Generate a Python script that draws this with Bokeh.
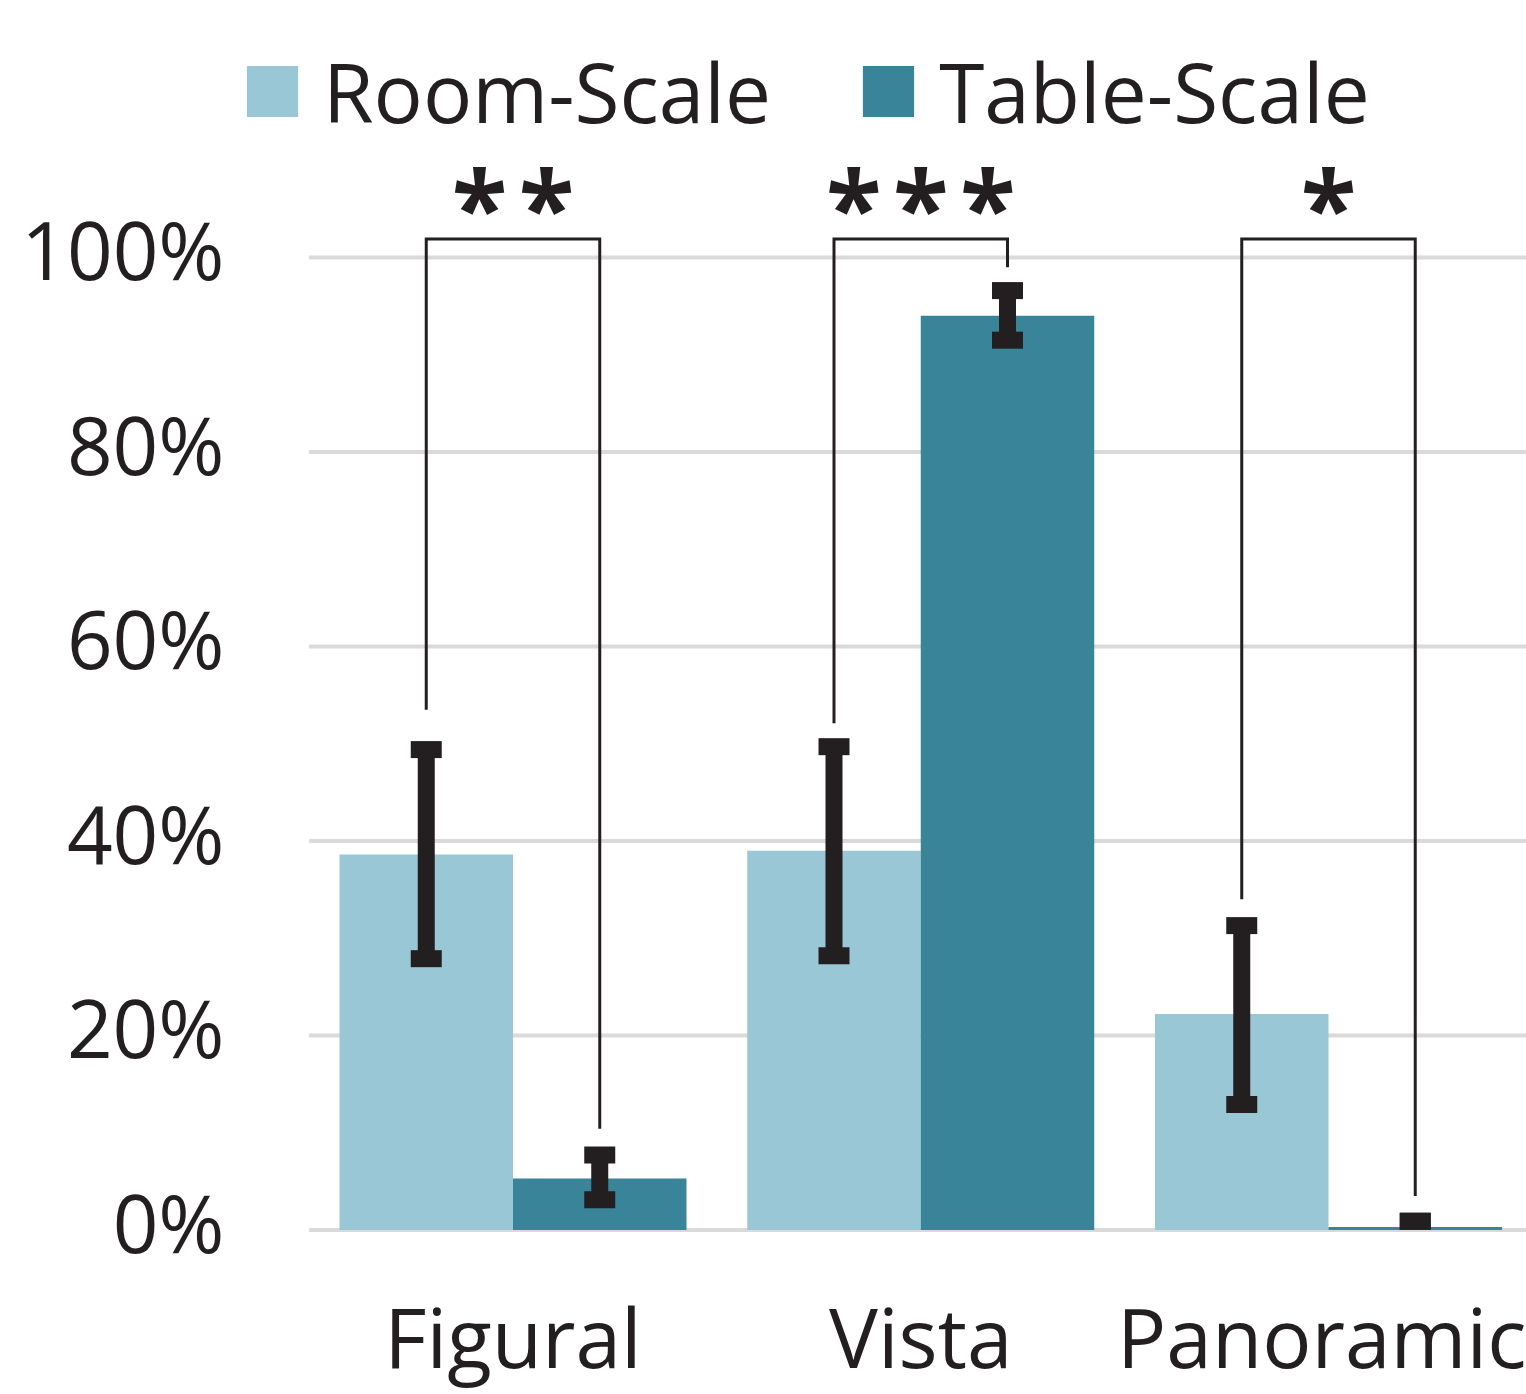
from bokeh.plotting import figure
from bokeh.models import FixedTicker, Legend, LegendItem, Range1d, LinearAxis
from bokeh.embed import file_html
from bokeh.resources import INLINE
from bokeh.core.properties import value

# ---------------- data ----------------
categories = ["Figural", "Vista", "Panoramic"]
series = ["Room-Scale", "Table-Scale"]
room_values = [38.6, 39.0, 22.2]
room_err_low = [27.9, 28.2, 12.9]
room_err_high = [49.4, 49.7, 31.3]
table_values = [5.3, 94.0, 0.3]
table_err_low = [3.1, 91.5, 0.9]
table_err_high = [7.7, 96.6, 0.9]
sig_labels = ["**", "***", "*"]
bracket_room_end = [53.5, 52.1, 34.0]
bracket_table_end = [10.4, 99.0, 3.5]
y_ticks = [0, 20, 40, 60, 80, 100]
y_tick_labels = ["0%", "20%", "40%", "60%", "80%", "100%"]

# ---------------- style ----------------
ROOM = "#99C7D6"
TABLE = "#3A849A"
TEXT = "#231F20"
GRID = "#DADADA"
FONT = "Open Sans"
BAR_W = 0.4255
OFF = BAR_W / 2
BRACKET_TOP = 101.9
STAR_Y = 105.4
STAR_GAP = 67
X_START, X_END = -0.6683, 2.4856
Y_START, Y_END = -2.108, 126.43
LABEL_SHIFT = 0.925   # tick labels sit slightly above their grid lines
GRID_START = -0.5

idx = list(range(len(categories)))
x_room = [i - OFF for i in idx]
x_table = [i + OFF for i in idx]

p = figure(width=1526, height=1394,
           x_range=Range1d(X_START, X_END), y_range=Range1d(Y_START, Y_END),
           y_axis_location=None,
           output_backend="svg", toolbar_location=None,
           min_border_left=240, min_border_right=0, min_border_top=0,
           min_border_bottom=144)
p.outline_line_color = None
p.background_fill_color = "white"
p.border_fill_color = "white"
p.xgrid.grid_line_color = None
p.ygrid.grid_line_color = None

# y axis on a slightly shifted range so the labels sit like the original
p.extra_y_ranges = {"labels": Range1d(Y_START - LABEL_SHIFT, Y_END - LABEL_SHIFT)}
yax = LinearAxis(y_range_name="labels", ticker=FixedTicker(ticks=y_ticks))
yax.major_label_overrides = {t: l for t, l in zip(y_ticks, y_tick_labels)}
yax.major_label_standoff = 16
p.add_layout(yax, "left")

p.xaxis.ticker = FixedTicker(ticks=idx)
p.xaxis.major_label_overrides = {i: c for i, c in zip(idx, categories)}
p.xaxis.major_label_standoff = 29
for ax in (p.xaxis[0], yax):
    ax.axis_line_color = None
    ax.major_tick_line_color = None
    ax.minor_tick_line_color = None
    ax.major_tick_out = 0
    ax.major_label_text_font = FONT
    ax.major_label_text_color = TEXT
yax.major_label_text_font_size = "80px"
p.xaxis.major_label_text_font_size = "82px"

# horizontal grid lines, starting where the first category begins
p.segment(x0=[GRID_START] * len(y_ticks), x1=[X_END] * len(y_ticks),
          y0=y_ticks, y1=y_ticks, line_color=GRID, line_width=4,
          level="underlay")

# bars
r_room = p.vbar(x=x_room, top=room_values, bottom=0, width=BAR_W,
                fill_color=ROOM, line_color=None)
r_table = p.vbar(x=x_table, top=table_values, bottom=0, width=BAR_W,
                 fill_color=TABLE, line_color=None)

# error bars
ex = x_room + x_table
elo = room_err_low + table_err_low
ehi = room_err_high + table_err_high
p.segment(x0=ex, y0=elo, x1=ex, y1=ehi, line_width=17, line_color=TEXT,
          line_cap="butt")
p.rect(x=ex + ex, y=elo + ehi, width=31, height=17, width_units="screen",
       height_units="screen", fill_color=TEXT, line_color=None)

# significance brackets
xs = [[a, a, b, b] for a, b in zip(x_room, x_table)]
ys = [[lo, BRACKET_TOP, BRACKET_TOP, hi] for lo, hi in zip(bracket_room_end, bracket_table_end)]
p.multi_line(xs=xs, ys=ys, line_width=3, line_color=TEXT, line_join="miter")

# stars
sx, sy, st, sdx = [], [], [], []
for i, lab in zip(idx, sig_labels):
    n = len(lab)
    for k in range(n):
        sx.append(i)
        sy.append(STAR_Y)
        st.append("*")
        sdx.append((k - (n - 1) / 2) * STAR_GAP)
p.text(x=sx, y=sy, text=st, x_offset=sdx, text_font=value(FONT),
       text_font_size="102px", text_font_style="bold", text_align="center",
       text_baseline="middle", text_color=TEXT)

# legend
legend = Legend(items=[LegendItem(label=series[0], renderers=[r_room]),
                       LegendItem(label=series[1], renderers=[r_table])],
                orientation="horizontal", location=(0, 1103),
                padding=0, margin=0, spacing=85, glyph_width=64, glyph_height=64,
                label_standoff=19, label_text_font=FONT,
                label_text_font_size="82px", label_text_color=TEXT,
                border_line_color=None, background_fill_alpha=0)
p.add_layout(legend)

open("out.html", "w").write(file_html(p, INLINE))
